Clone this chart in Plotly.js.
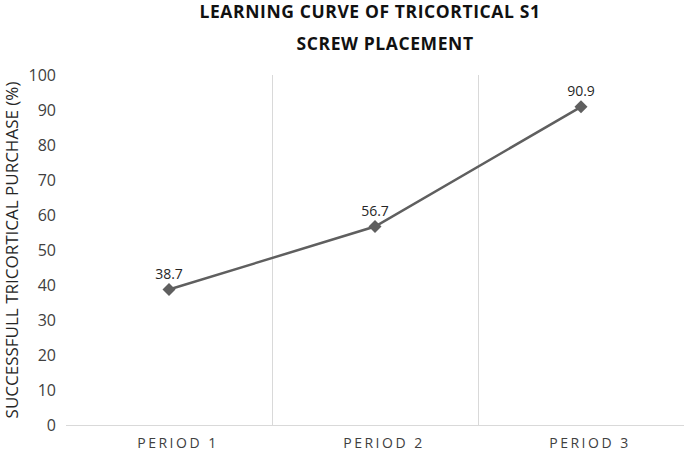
<!DOCTYPE html>
<html>
<head>
<meta charset="utf-8">
<script src="https://cdn.plot.ly/plotly-3.0.1.min.js"></script>
<style>
html,body{margin:0;padding:0;background:#fff;}
#chart{width:685px;height:458px;}
#chart .xtick text{letter-spacing:2.5px;}
#chart .gtitle, #chart .annotation-text{letter-spacing:0.6px;}
</style>
</head>
<body>
<div id="chart"></div>
<script>
var categories = ["PERIOD 1", "PERIOD 2", "PERIOD 3"];
var values = [38.7, 56.7, 90.9];
var valueLabels = ["38.7", "56.7", "90.9"];
var yTicks = [0, 10, 20, 30, 40, 50, 60, 70, 80, 90, 100];
var titleLine1 = "LEARNING CURVE OF TRICORTICAL S1";
var titleLine2 = "SCREW PLACEMENT";
var yTitle = "SUCCESSFULL TRICORTICAL PURCHASE (%)";

var font = "Open Sans, sans-serif";

var trace = {
  x: categories,
  y: values,
  type: "scatter",
  mode: "lines+markers+text",
  text: valueLabels,
  textposition: "top center",
  textfont: {family: font, size: 14, color: "#262626"},
  line: {color: "#5f5f5f", width: 2.5},
  marker: {symbol: "diamond", size: 10, color: "#5f5f5f"},
  cliponaxis: false,
  hoverinfo: "x+y"
};

var layout = {
  width: 685,
  height: 458,
  margin: {l: 66, r: 1, t: 75, b: 33},
  paper_bgcolor: "#ffffff",
  plot_bgcolor: "#ffffff",
  showlegend: false,
  font: {family: font, color: "#404040"},
  title: {
    text: "<b>" + titleLine1 + "</b>",
    font: {family: font, size: 17.5, color: "#111111"},
    x: 370 / 685, xanchor: "center",
    y: 1 - 12 / 458, yanchor: "middle"
  },
  annotations: [{
    text: "<b>" + titleLine2 + "</b>",
    xref: "paper", yref: "paper",
    x: (385 - 66) / 618, y: 1 + (75 - 43) / 350,
    xanchor: "center", yanchor: "middle",
    showarrow: false,
    font: {family: font, size: 17.5, color: "#111111"}
  }],
  xaxis: {
    type: "category",
    range: [-0.5, 2.5],
    tickson: "boundaries",
    showgrid: true,
    gridcolor: "#d9d9d9",
    gridwidth: 1,
    showline: true,
    linecolor: "#d9d9d9",
    linewidth: 1,
    ticks: "",
    zeroline: false,
    ticklabelstandoff: 5,
    ticklabelshift: 9,
    tickfont: {family: font, size: 14, color: "#404040"},
    fixedrange: true
  },
  yaxis: {
    range: [0, 100],
    tickvals: yTicks,
    ticktext: yTicks.map(String),
    showgrid: false,
    zeroline: false,
    showline: false,
    ticks: "",
    ticklabelstandoff: 9,
    tickfont: {family: font, size: 16, color: "#404040"},
    title: {text: yTitle, font: {family: font, size: 17, color: "#262626"}, standoff: 7},
    fixedrange: true
  }
};

Plotly.newPlot("chart", [trace], layout, {displayModeBar: false, staticPlot: true});
</script>
</body>
</html>
